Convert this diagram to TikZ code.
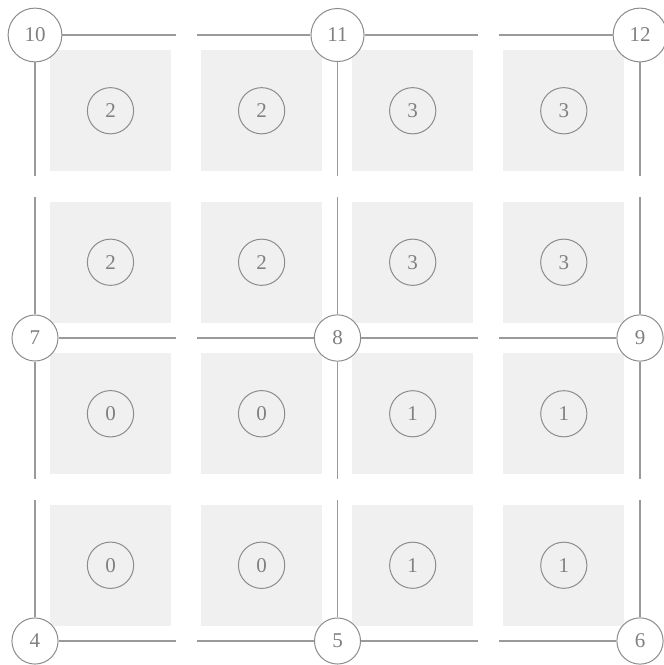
\documentclass[tikz,border=0pt]{standalone}
\usepackage{fontspec}
\setmainfont{Liberation Serif}
\usetikzlibrary{calc}
\definecolor{cellgrey}{HTML}{F0F0F0}
\definecolor{ringgrey}{HTML}{8C8C8C}
\definecolor{linegrey}{HTML}{9A9A9A}
\definecolor{labelgrey}{HTML}{808080}
\begin{document}
\begin{tikzpicture}[
  x=1pt, y=-1pt,
  cell/.style={fill=cellgrey, minimum size=121pt, inner sep=0pt},
  tag/.style={circle, draw=ringgrey, line width=1pt, inner sep=10.2pt, text=labelgrey, font=\fontsize{21}{25}\selectfont},
  vertex/.style={tag, fill=white},
  edge/.style={draw=linegrey, line width=1.1pt, shorten >=10.5pt}
]
\useasboundingbox (0,0) rectangle (664,665);
% cells with their tags
\foreach \c/\r/\t in {0/0/2, 1/0/2, 2/0/3, 3/0/3, 0/1/2, 1/1/2, 2/1/3, 3/1/3,
                      0/2/0, 1/2/0, 2/2/1, 3/2/1, 0/3/0, 1/3/0, 2/3/1, 3/3/1} {
  \node[cell] (cell\c\r) at ({110.5+151.1*\c}, {110.75+151.5*\r}) {};
  \node[tag] (tag\c\r) at (cell\c\r) {\t};
}
% grid vertices
\node[vertex] (v10) at (35,35) {10};
\node[vertex] (v11) at (337.5,35) {11};
\node[vertex] (v12) at (640,35) {12};
\node[vertex] (v7) at (35,338) {7};
\node[vertex] (v8) at (337.5,338) {8};
\node[vertex] (v9) at (640,338) {9};
\node[vertex] (v4) at (35,641) {4};
\node[vertex] (v5) at (337.5,641) {5};
\node[vertex] (v6) at (640,641) {6};
% split edges
\foreach \a/\b in {10/11, 11/12, 7/8, 8/9, 4/5, 5/6, 10/7, 7/4, 11/8, 8/5, 12/9, 9/6} {
  \coordinate (mid\a\b) at ($(v\a)!0.5!(v\b)$);
  \draw[edge] (v\a) -- (mid\a\b);
  \draw[edge] (v\b) -- (mid\a\b);
}
\end{tikzpicture}
\end{document}
